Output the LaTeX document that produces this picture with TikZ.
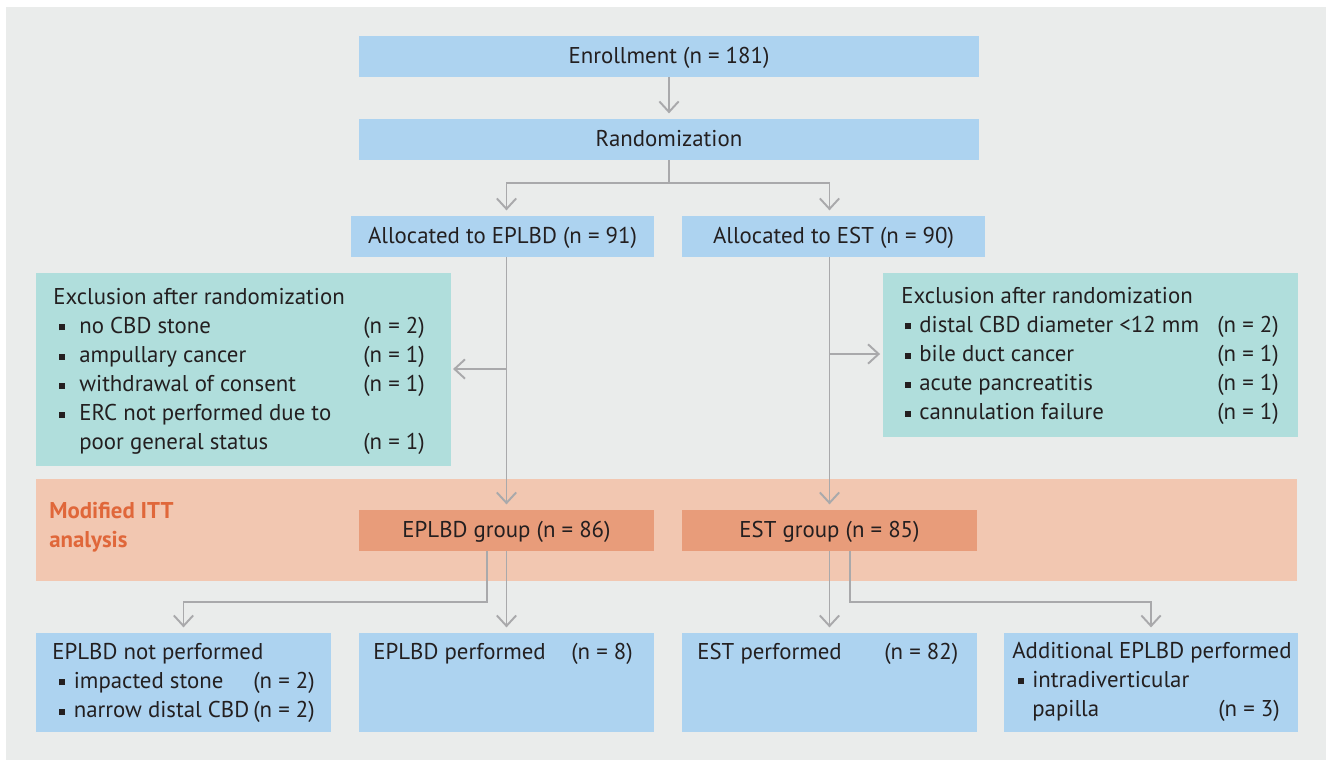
\documentclass[tikz,border=0pt]{standalone}
\usepackage{fontspec}
\setmainfont{PT Sans}
\usetikzlibrary{arrows.meta}
\definecolor{bgray}{HTML}{EAECEB}
\definecolor{boxblue}{HTML}{ADD3F0}
\definecolor{exteal}{HTML}{B0DEDC}
\definecolor{ittband}{HTML}{F2C7B1}
\definecolor{grporange}{HTML}{E89C7A}
\definecolor{ittorange}{HTML}{E0673A}
\definecolor{arrgray}{HTML}{A9A9AB}
\definecolor{txtdark}{HTML}{231F20}
\newcommand\sqb{\rule[0.12em]{0.26em}{0.26em}}
\newcommand\itm[3][0.12cm]{\makebox[#2][l]{\hspace{#1}\sqb}#3}
\newcommand\hd[1]{\multicolumn{2}{@{}l@{}}{#1}}
\begin{document}
\begin{tikzpicture}[x=0.02cm,y=-0.02cm,font=\fontsize{13}{16.6}\selectfont,text=txtdark,
	>={Straight Barb[length=6pt,width=11pt]}]
	\tikzset{blue box/.style={fill=boxblue,minimum height=0.82cm,inner sep=0,text depth=0.05cm},
		grp box/.style={fill=grporange,minimum width=5.9cm,minimum height=0.82cm,inner sep=0,text depth=0.05cm},
		res box/.style={fill=boxblue,minimum width=5.9cm,minimum height=1.98cm,inner sep=0},
		excl box/.style={fill=exteal,minimum width=8.3cm,inner sep=0},
		txt/.style={anchor=base west,inner sep=0},
		conn/.style={draw=arrgray,line width=1.1pt,->,shorten >=3pt}}
	\useasboundingbox (0,0) rectangle (1332,765);
	\fill[bgray] (6,7) rectangle (1326,760);
	%--------- Boxes
	\node[blue box,minimum width=12.4cm] (enrol) at (669,56.5) {Enrollment (n = 181)};
	\node[blue box,minimum width=12.4cm] (rand) at (669,139.5) {Randomization};
	\node[blue box,minimum width=6.06cm] (allocE) at (502.5,236.5) {Allocated to EPLBD (n = 91)};
	\node[blue box,minimum width=6.06cm] (allocS) at (833.5,236.5) {Allocated to EST (n = 90)};
	\node[excl box,minimum height=3.86cm] (exL) at (243.5,369.5) {};
	\node[excl box,minimum height=3.28cm] (exR) at (1090.5,355) {};
	\node[fill=ittband,minimum width=25.22cm,minimum height=2.04cm,inner sep=0] (itt) at (666.5,530) {};
	\node[grp box] (grpE) at (506.5,530.5) {EPLBD group (n = 86)};
	\node[grp box] (grpS) at (829.5,530.5) {EST group (n = 85)};
	\node[res box] (b1) at (183.5,682.5) {};
	\node[res box] (b2) at (506.5,682.5) {};
	\node[res box] (b3) at (829.5,682.5) {};
	\node[res box] (b4) at (1151,682.5) {};
	%--------- Texts
	\node[txt] (exLt) at (53,304) {\begin{tabular}[t]{@{}p{6.2cm}@{}l@{}}
			\hd{Exclusion after randomization}\\
			\itm{0.52cm}{no CBD stone} & (n = 2)\\
			\itm{0.52cm}{ampullary cancer} & (n = 1)\\
			\itm{0.52cm}{withdrawal of consent} & (n = 1)\\
			\itm{0.52cm}{ERC not performed due to} & \\
			\hspace{0.52cm}poor general status & (n = 1)
		\end{tabular}};
	\node[txt] (exRt) at (901,303) {\begin{tabular}[t]{@{}p{6.32cm}@{}l@{}}
			\hd{Exclusion after randomization}\\
			\itm[0.08cm]{0.36cm}{distal CBD diameter <12 mm} & (n = 2)\\
			\itm[0.08cm]{0.36cm}{bile duct cancer} & (n = 1)\\
			\itm[0.08cm]{0.36cm}{acute pancreatitis} & (n = 1)\\
			\itm[0.08cm]{0.36cm}{cannulation failure} & (n = 1)
		\end{tabular}};
	\node[txt,text=ittorange,font=\fontsize{13}{16.6}\selectfont\bfseries] (ittt) at (49,518)
		{\begin{tabular}[t]{@{}l@{}}Modified ITT\\analysis\end{tabular}};
	\node[txt] (b1t) at (52,659) {\begin{tabular}[t]{@{}p{4.02cm}@{}l@{}}
			\hd{EPLBD not performed}\\
			\itm[0.13cm]{0.43cm}{impacted stone} & (n = 2)\\
			\itm[0.13cm]{0.43cm}{narrow distal CBD} & (n = 2)
		\end{tabular}};
	\node[txt] (b2t) at (373,659) {\begin{tabular}[t]{@{}p{3.96cm}@{}l@{}}
			EPLBD performed & (n = 8)
		\end{tabular}};
	\node[txt] (b3t) at (697,659) {\begin{tabular}[t]{@{}p{3.74cm}@{}l@{}}
			EST performed & (n = 82)
		\end{tabular}};
	\node[txt] (b4t) at (1012,658) {\begin{tabular}[t]{@{}p{4.12cm}@{}l@{}}
			\hd{Additional EPLBD performed}\\
			\itm{0.4cm}{intradiverticular} & \\
			\hspace{0.4cm}papilla & (n = 3)
		\end{tabular}};
	%--------- Connectors
	\coordinate (split) at (669,183);
	\coordinate (jE) at (506.5,369);
	\coordinate (jS) at (829.5,354);
	\draw[conn] (enrol) -- (rand);
	\draw[conn] (rand.south) -- (split) -| (allocE.north -| grpE.north);
	\draw[conn] (split) -| (allocS.north -| grpS.north);
	\draw[conn] (allocE.south -| grpE.north) -- (grpE.north);
	\draw[conn] (allocS.south -| grpS.north) -- (grpS.north);
	\draw[conn,shorten >=1pt] (jE) -- (jE -| exL.east);
	\draw[conn,shorten >=1.5pt] (jS) -- (jS -| exR.west);
	\draw[conn] ([xshift=-0.39cm]grpE.south) -- ++(0,51) -| (b1.north);
	\draw[conn] (grpE) -- (b2);
	\draw[conn] (grpS) -- (b3);
	\draw[conn] ([xshift=0.41cm]grpS.south) -- ++(0,51) -| (b4.north);
\end{tikzpicture}
\end{document}
